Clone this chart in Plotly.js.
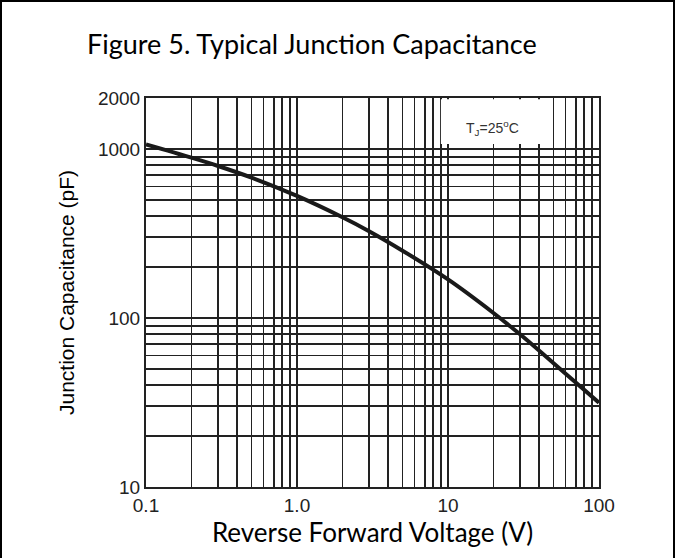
<!DOCTYPE html>
<html>
<head>
<meta charset="utf-8">
<script src="https://cdn.plot.ly/plotly-3.0.1.min.js"></script>
<style>
  html, body { margin: 0; padding: 0; background: #fff; }
  #wrap { position: relative; width: 675px; height: 558px; }
  #chart { width: 675px; height: 558px; }
  #frame { position: absolute; left: 0; top: 0; width: 675px; height: 558px; box-sizing: border-box;
           border-left: 2px solid #000; border-top: 2px solid #000; border-right: 2px solid #000; pointer-events: none; }
</style>
</head>
<body>
<div id="wrap"><div id="chart"></div><div id="frame"></div></div>
<script>
// Data
const voltage = [0.1, 0.2, 0.3, 0.5, 1, 2, 3, 5, 10, 20, 30, 50, 100];
const capacitance = [1062, 887, 792, 676, 527, 394, 326, 250, 169, 107, 80, 54, 31.5];

// Labelled ticks
const xTickVals = [0.1, 1, 10, 100];
const xTickText = ["0.1", "1.0", "10", "100"];
const yTickVals = [10, 100, 1000, 2000];
const yTickText = ["10", "100", "1000", "2000"];

// Minor grid lines
const xMinorVals = [0.2,0.3,0.4,0.5,0.6,0.7,0.8,0.9,2,3,4,5,6,7,8,9,20,30,40,50,60,70,80,90];
const yMinorVals = [20,30,40,50,60,70,80,90,200,300,400,500,600,700,800,900];

const gridColor = "#222";
const gridW = 1.8;

const trace = {
  x: voltage, y: capacitance, type: "scatter", mode: "lines",
  line: { color: "#1a1a1a", width: 4, shape: "spline", smoothing: 1 },
  hoverinfo: "skip"
};

const tickFont = { family: "'Liberation Sans', Arial, sans-serif", size: 19, color: "#222" };

const layout = {
  width: 675, height: 558,
  margin: { l: 146, r: 76, t: 98, b: 71, pad: 0 },
  paper_bgcolor: "#fff", plot_bgcolor: "#fff",
  showlegend: false,
  title: {
    text: "Figure 5. Typical Junction Capacitance",
    font: { family: "Lato, 'Open Sans', sans-serif", size: 27, color: "#000" },
    x: 87/675, xanchor: "left", xref: "container",
    y: 1 - 45/558, yanchor: "middle", yref: "container"
  },
  xaxis: {
    type: "log", range: [-1, 2],
    tickmode: "array", tickvals: xTickVals, ticktext: xTickText, ticks: "",
    showgrid: true, gridcolor: gridColor, gridwidth: gridW,
    minor: { tickmode: "array", tickvals: xMinorVals, showgrid: true, gridcolor: gridColor, gridwidth: gridW, ticks: "" },
    showline: true, linecolor: "#222", linewidth: 2, mirror: true,
    zeroline: false,
    tickfont: tickFont,
    title: { text: "Reverse Forward Voltage (V)", standoff: 9,
             font: { family: "Lato, 'Open Sans', sans-serif", size: 26, color: "#000" } }
  },
  yaxis: {
    type: "log", range: [1, Math.log10(2000)],
    tickmode: "array", tickvals: yTickVals, ticktext: yTickText, ticks: "",
    showgrid: true, gridcolor: gridColor, gridwidth: gridW,
    minor: { tickmode: "array", tickvals: yMinorVals, showgrid: true, gridcolor: gridColor, gridwidth: gridW, ticks: "" },
    showline: true, linecolor: "#222", linewidth: 2, mirror: true,
    zeroline: false,
    tickfont: tickFont,
    title: { text: "Junction Capacitance (pF)", standoff: 18,
             font: { family: "'Liberation Sans', Arial, sans-serif", size: 21, color: "#000" } }
  },
  shapes: [{
    type: "rect", xref: "paper", yref: "paper",
    x0: 0.651, x1: 0.876, y0: 0.882, y1: 0.997,
    fillcolor: "#fff", line: { width: 0 }, layer: "above"
  }],
  annotations: [{
    xref: "paper", yref: "paper", x: 0.766, y: 0.923,
    xanchor: "center", yanchor: "middle",
    text: "T<sub>J</sub>=25<sup>o</sup>C",
    showarrow: false,
    font: { family: "'Liberation Sans', Arial, sans-serif", size: 14, color: "#333" }
  }]
};

Plotly.newPlot("chart", [trace], layout, { staticPlot: true, displayModeBar: false });
</script>
</body>
</html>
